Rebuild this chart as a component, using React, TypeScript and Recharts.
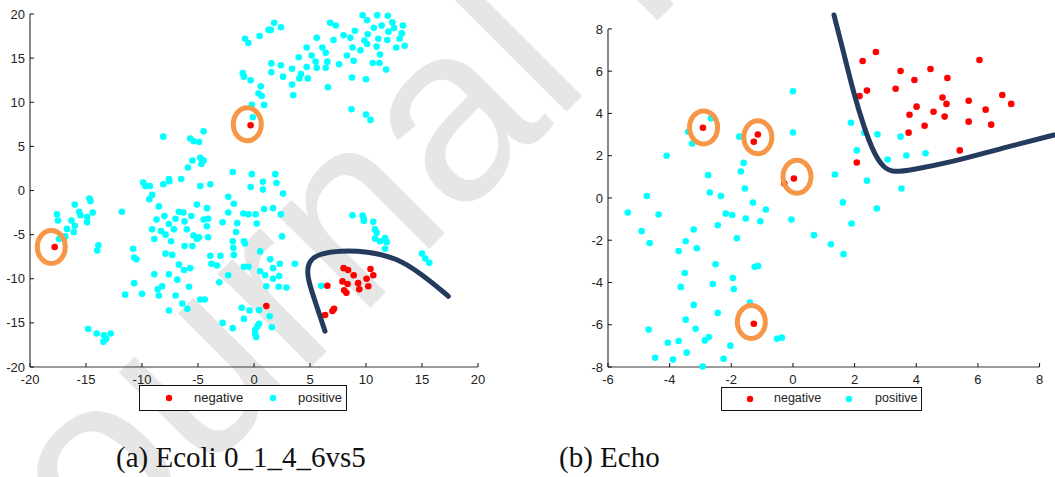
import React from 'react';
import { ScatterChart, Scatter, XAxis, YAxis, ReferenceLine } from 'recharts';

type P = [number, number];

// (a) Ecoli 0_1_4_6vs5
const ecoliPositive: P[] = [
  [-8.1, 6.1], [-5.7, 5.9], [-5.4, 5.6], [-4.9, 5.5], [-4.5, 6.7], [-4.8, 3.7], [-4.7, 3.0], [-4.5, 3.4],
  [-5.5, 3.4], [-5.9, 2.6], [-6.5, 1.3], [-7.6, 1.3], [-1.9, 2.1],
  [-0.8, 17.2], [-0.5, 16.7], [0.5, 17.5], [1.3, 18.2], [1.5, 18.2], [1.8, 19.0], [2.4, 18.5], [-1.0, 13.3],
  [-0.9, 12.9], [-0.3, 12.5], [0.6, 11.8], [0.4, 11.0], [0.7, 10.7], [0.9, 9.7], [-0.2, 9.7], [-0.1, 8.3],
  [1.55, 14.4], [1.55, 13.4], [2.4, 14.2], [2.6, 12.9], [3.4, 13.8], [3.4, 12.0], [3.5, 10.8], [4.0, 15.1],
  [4.7, 16.2], [5.15, 15.3], [4.05, 12.7], [4.2, 13.2], [4.7, 14.0], [4.8, 12.7], [5.5, 14.6], [5.6, 13.9],
  [5.6, 17.3], [6.1, 16.2], [6.4, 15.6], [6.55, 14.6], [6.4, 13.9], [6.6, 11.7], [6.8, 19.0], [7.3, 18.7],
  [7.1, 17.05], [7.6, 14.3], [8.0, 17.6], [8.3, 15.3], [8.6, 17.3], [8.8, 16.2], [8.9, 14.7], [9.0, 18.1],
  [8.75, 12.8], [9.5, 15.9], [8.7, 9.2], [9.7, 19.85], [10.1, 19.3], [10.15, 17.7], [9.85, 17.0], [10.1, 16.6],
  [10.0, 12.6], [10.0, 8.6], [10.4, 8.0], [10.7, 18.45], [11.0, 19.85], [11.4, 18.7], [11.1, 17.2], [10.95, 16.3],
  [11.25, 15.4], [10.6, 14.45], [11.2, 14.45], [11.8, 13.7], [11.95, 19.8], [12.35, 19.05], [12.0, 18.0],
  [12.5, 18.4], [11.9, 17.05], [13.3, 18.7], [13.2, 17.8], [13.0, 17.2], [12.7, 16.2], [13.45, 16.4],
  [-0.2, 1.85], [1.9, 1.85],
  [-9.9, 0.9], [-9.7, 0.5], [-9.3, 0.5], [-9.1, -0.5], [-9.35, -1.0], [-8.1, 0.7], [-7.56, 1.04], [-4.8, 0.5],
  [-3.9, 0.7], [-2.3, -0.7], [-1.8, -1.5],
  [-14.7, -0.9], [-14.6, -1.2], [-16.0, -1.6], [-17.6, -2.7], [-17.5, -3.4], [-15.6, -2.4], [-15.5, -2.8],
  [-14.4, -2.5], [-14.9, -3.0], [-14.9, -3.6], [-16.3, -3.4], [-16.0, -4.0], [-16.1, -4.7], [-16.7, -4.35],
  [-16.85, -5.2], [-17.4, -5.5], [-13.9, -6.2], [-14.0, -6.8], [-11.8, -2.4], [-10.8, -6.6], [-10.7, -7.6],
  [-10.5, -7.8], [-10.7, -10.5], [-11.5, -11.8], [-10.0, -11.7], [-14.8, -15.7], [-14.05, -16.2], [-13.4, -16.4],
  [-13.2, -16.8], [-13.45, -17.15], [-12.8, -16.2],
  [-8.5, -1.8], [-8.7, -3.3], [-8.0, -2.9], [-9.1, -4.4], [-8.9, -5.5], [-8.3, -4.6], [-7.9, -5.0], [-7.6, -3.8],
  [-7.15, -4.4], [-7.0, -3.2], [-6.7, -2.4], [-6.3, -2.5], [-6.2, -3.5], [-5.6, -2.9], [-5.1, -1.6], [-6.0, -4.4],
  [-5.4, -5.1], [-5.1, -5.5], [-5.5, -6.3], [-6.2, -6.3], [-7.4, -5.75], [-7.9, -7.15], [-7.3, -7.3], [-6.7, -8.4],
  [-6.25, -9.0], [-5.7, -8.8], [-7.6, -9.5], [-8.9, -9.5], [-6.85, -10.1], [-8.2, -10.85], [-8.6, -11.2],
  [-8.5, -11.9], [-7.0, -11.9], [-5.8, -10.9], [-7.6, -13.6], [-6.4, -12.8], [-5.95, -13.4], [-4.8, -12.35],
  [-4.4, -12.35], [-4.9, -5.3], [-4.5, -3.3], [-4.1, -3.2], [-4.2, -4.05], [-4.2, -2.0], [-4.1, -5.3], [-3.9, -7.4],
  [-3.8, -8.3], [-3.3, -8.5], [-3.1, -10.4], [-3.0, -7.4], [-2.8, -3.6], [-2.3, -2.5], [-1.9, -5.75], [-1.85, -6.5],
  [-1.8, -7.3], [-2.3, -9.6], [-1.6, -4.7], [-1.5, -3.7], [-2.8, -15.0], [-1.9, -15.6],
  [-0.3, 0.4], [0.8, 1.0], [0.8, 0.1], [2.0, 0.85], [2.6, -0.35], [-0.95, -2.6], [-0.5, -2.7], [0.15, -2.7],
  [0.9, -2.1], [1.7, -2.0], [2.4, -2.7], [0.25, -3.75], [-0.9, -5.75], [-0.8, -6.0], [2.5, -5.2], [0.55, -6.9],
  [1.45, -7.8], [1.7, -8.8], [2.3, -8.3], [-0.9, -8.65], [-0.5, -8.65], [0.55, -9.15], [1.0, -9.6], [1.7, -10.0],
  [2.25, -9.7], [1.1, -10.85], [2.2, -10.9], [2.9, -11.0], [3.65, -8.3], [6.0, -10.8], [-1.1, -13.3], [-0.4, -13.6],
  [0.45, -13.55], [-0.9, -14.55], [0.45, -15.1], [0.3, -15.4], [0.1, -15.8], [0.1, -16.2], [0.2, -16.6],
  [1.4, -14.25], [1.6, -15.5],
  [8.8, -2.8], [9.7, -2.85], [9.8, -3.2], [9.8, -3.45], [10.65, -3.55], [10.8, -4.4], [10.95, -4.8], [10.8, -5.45],
  [11.25, -5.75], [11.7, -5.4], [11.85, -5.85], [11.7, -6.6], [15.0, -7.15], [15.3, -7.7], [15.65, -8.2],
];
const ecoliNegative: P[] = [
  [-0.3, 7.4], [-17.8, -6.4], [1.1, -13.1], [6.55, -10.8], [8.0, -8.8], [8.4, -9.0], [8.9, -9.6], [7.9, -10.3],
  [8.35, -10.6], [8.05, -11.3], [8.25, -11.6], [9.3, -10.5], [9.4, -11.2], [10.2, -10.85], [10.05, -10.0],
  [10.4, -8.9], [10.65, -9.6], [7.15, -13.4], [7.0, -13.65], [6.35, -14.1],
];
const ecoliMarked: P[] = [[-0.6, 7.5], [-18.1, -6.4]];
const ecoliBoundary: P[] = [
  [6.34, -15.94], [5.6, -13.1], [5.0, -10.85], [4.7, -9.15], [5.0, -7.83], [5.89, -7.15], [7.68, -6.81],
  [10.06, -6.88], [12.74, -7.64], [14.82, -9.34], [17.2, -11.79], [17.35, -11.98],
];
const ecoliTicks = [-20, -15, -10, -5, 0, 5, 10, 15, 20];

// (b) Echo
const echoPositive: P[] = [
  [0, 5.05], [0, 3.1], [-4.1, 2.0], [-3.4, 3.13], [-3.27, 2.58], [-2.66, 3.77], [-1.74, 2.9], [-1.6, 1.66],
  [-1.69, 1.25], [-2.75, 1.08],
  [-1.56, 0.45], [-2.7, 0.26], [-2.34, 0.09], [-4.74, 0.09], [-1.3, -0.22], [-0.88, -0.55], [-5.36, -0.69],
  [-4.36, -0.78], [-2.18, -0.74], [-1.97, -0.81], [-1.53, -0.97], [-1.06, -1.1], [-0.05, -1.02], [-2.44, -1.29],
  [-4.91, -1.57], [-3.22, -1.49], [-4.65, -2.13], [-3.48, -2.05], [-1.82, -1.91], [-3.71, -2.51], [-3.12, -2.38],
  [-2.51, -3.14], [-1.24, -3.26], [-1.13, -3.22], [-3.51, -3.55], [-2.6, -4.07], [-1.95, -3.79], [-1.92, -4.31],
  [-3.64, -4.21], [-3.22, -5.06], [-1.4, -4.95], [-2.44, -5.44], [-3.48, -5.76], [-3.16, -6.19], [-4.68, -6.23],
  [-4.06, -6.85], [-3.71, -6.77], [-2.86, -6.74], [-2.73, -6.58], [-2.03, -6.99], [-0.52, -6.66], [-0.36, -6.61],
  [-3.45, -7.32], [-4.47, -7.56], [-3.89, -7.65], [-2.25, -7.61], [-2.93, -7.98],
  [1.88, 3.56], [2.32, 3.09], [2.74, 3.01], [3.49, 2.9], [2.07, 2.25], [3.07, 1.82], [3.68, 2.01], [4.3, 2.11],
  [1.36, 1.11], [2.4, 0.82], [3.52, 0.45], [1.62, -0.21], [2.72, -0.5], [1.9, -1.21], [0.68, -1.76], [1.23, -2.19],
  [1.64, -2.66],
];
const echoNegative: P[] = [
  [-2.92, 3.32], [-1.14, 3.0], [-1.27, 2.66], [0.03, 0.92], [-0.28, 0.68], [-1.27, -5.95],
  [2.69, 6.91], [2.26, 6.48], [2.4, 5.08], [2.16, 4.82], [3.49, 6.01], [3.33, 5.17], [3.94, 5.58], [4.46, 6.1],
  [5.01, 5.68], [6.05, 6.53], [4.85, 4.75], [4.98, 4.45], [4.01, 4.32], [3.78, 3.94], [4.56, 4.08], [4.92, 3.85],
  [4.27, 3.42], [3.75, 3.09], [5.7, 4.6], [6.25, 4.18], [6.79, 4.87], [7.08, 4.45], [5.7, 3.61], [6.43, 3.47],
  [5.41, 2.25], [2.07, 1.68],
];
const echoMarked: P[] = [[-2.9, 3.34], [-1.14, 2.87], [0.13, 1.0], [-1.35, -5.87]];
const echoBoundary: P[] = [
  [1.33, 8.66], [1.65, 6.85], [1.97, 4.95], [2.3, 3.37], [2.62, 2.11], [2.95, 1.4], [3.27, 1.21], [3.81, 1.32],
  [5.11, 1.68], [6.74, 2.34], [8.47, 2.98],
];
const echoXTicks = [-6, -4, -2, 0, 2, 4, 6, 8];
const echoYTicks = [-8, -6, -4, -2, 0, 2, 4, 6, 8];

const toPts = (a: P[]) => a.map(([x, y]) => ({ x, y }));

const CYAN = '#00ffff';
const RED = '#ff0000';
const ORANGE = '#f79646';
const NAVY = '#243b5e';
const AXIS = '#3a3a3a';
const SANS = '"Liberation Sans", Arial, Helvetica, sans-serif';

const dot = (color: string) => (p: any) => <circle cx={p.cx} cy={p.cy} r={3.3} fill={color} />;
const ring = (p: any) => (
  <ellipse cx={p.cx} cy={p.cy} rx={14} ry={16.5} fill="none" stroke={ORANGE} strokeWidth={5} />
);
const none = () => <g />;

const tickStyle = { fontSize: 13, fill: '#222', fontFamily: SANS };

function LegendBox({ left, top, width, height, items, fontSize }: any) {
  return (
    <div
      style={{
        position: 'absolute', left, top, width, height, boxSizing: 'border-box',
        border: '1.5px solid #111', background: '#fff', fontFamily: SANS, fontSize, color: '#222',
      }}
    >
      {items.map((it: any) => (
        <React.Fragment key={it.label}>
          <svg style={{ position: 'absolute', left: it.dot - 4 - left, top: height / 2 - 5 }} width={8} height={8}>
            <circle cx={4} cy={4} r={3.2} fill={it.color} />
          </svg>
          <span style={{ position: 'absolute', left: it.text - left, top: height / 2 - fontSize * 0.62, lineHeight: 1 }}>
            {it.label}
          </span>
        </React.Fragment>
      ))}
    </div>
  );
}

export default function App() {
  return (
    <div style={{ position: 'absolute', left: 0, top: 0, width: 1055, height: 477, background: '#fff', overflow: 'hidden' }}>
      {/* page watermark behind the figure */}
      <svg style={{ position: 'absolute', left: 0, top: 0 }} width={1055} height={477}>
        <text x={14} y={664} transform="rotate(-45 14 664)" fontFamily={SANS} fontSize={250} fill="#e6e6e6">
          Journal Pre-proof
        </text>
      </svg>
      <div style={{ position: 'absolute', left: 0, top: 0 }}>
        <ScatterChart width={500} height={400} margin={{ top: 14, right: 22, bottom: 3, left: 0 }}>
          <XAxis
            type="number" dataKey="x" domain={[-20, 20]} ticks={ecoliTicks} interval={0}
            height={30} tickSize={-4} tickMargin={12} tick={tickStyle}
            stroke={AXIS} axisLine={{ stroke: AXIS, strokeWidth: 1.2 }} tickLine={{ stroke: '#111' }}
          />
          <YAxis
            type="number" dataKey="y" domain={[-20, 20]} ticks={ecoliTicks} interval={0}
            width={30} tickSize={-4} tickMargin={9} tick={tickStyle}
            stroke={AXIS} axisLine={{ stroke: AXIS, strokeWidth: 1.2 }} tickLine={{ stroke: '#111' }}
          />
          <Scatter name="positive" data={toPts(ecoliPositive)} fill={CYAN} shape={dot(CYAN)} isAnimationActive={false} />
          <Scatter name="negative" data={toPts(ecoliNegative)} fill={RED} shape={dot(RED)} isAnimationActive={false} />
          <Scatter
            data={toPts(ecoliBoundary)} fill={NAVY} shape={none} legendType="none"
            line={{ stroke: NAVY, strokeWidth: 5, strokeLinecap: 'round' }} lineJointType="basis" isAnimationActive={false}
          />
          <Scatter data={toPts(ecoliMarked)} fill={ORANGE} shape={ring} legendType="none" isAnimationActive={false} />
        </ScatterChart>
      </div>
      <div style={{ position: 'absolute', left: 578, top: 0 }}>
        <ScatterChart width={477} height={400} margin={{ top: 12, right: 0, bottom: 3, left: 0 }}>
          <XAxis
            type="number" dataKey="x" domain={[-6, 8.5]} ticks={echoXTicks} interval={0}
            height={30} tickSize={-4} tickMargin={12} tick={tickStyle}
            axisLine={false} tickLine={{ stroke: '#111' }}
          />
          <YAxis
            type="number" dataKey="y" domain={[-8, 8.8]} ticks={echoYTicks} interval={0}
            width={30} tickSize={-4} tickMargin={9} tick={tickStyle}
            axisLine={false} tickLine={{ stroke: '#111' }}
          />
          <ReferenceLine segment={[{ x: -6, y: -8 }, { x: 8, y: -8 }]} stroke={AXIS} strokeWidth={1.2} />
          <ReferenceLine segment={[{ x: -6, y: -8 }, { x: -6, y: 8 }]} stroke={AXIS} strokeWidth={1.2} />
          <Scatter name="positive" data={toPts(echoPositive)} fill={CYAN} shape={dot(CYAN)} isAnimationActive={false} />
          <Scatter name="negative" data={toPts(echoNegative)} fill={RED} shape={dot(RED)} isAnimationActive={false} />
          <Scatter
            data={toPts(echoBoundary)} fill={NAVY} shape={none} legendType="none"
            line={{ stroke: NAVY, strokeWidth: 5, strokeLinecap: 'round' }} lineJointType="basis" isAnimationActive={false}
          />
          <Scatter data={toPts(echoMarked)} fill={ORANGE} shape={ring} legendType="none" isAnimationActive={false} />
        </ScatterChart>
      </div>

      <LegendBox
        left={139} top={385} width={208} height={26} fontSize={13}
        items={[
          { label: 'negative', color: RED, dot: 168, text: 193 },
          { label: 'positive', color: CYAN, dot: 272, text: 297 },
        ]}
      />
      <LegendBox
        left={721} top={387} width={201} height={24} fontSize={12.5}
        items={[
          { label: 'negative', color: RED, dot: 749, text: 773 },
          { label: 'positive', color: CYAN, dot: 848, text: 874 },
        ]}
      />

      <div style={{ position: 'absolute', left: 116, top: 443, fontFamily: '"Liberation Serif", "Times New Roman", serif', fontSize: 29, color: '#111', lineHeight: 1, whiteSpace: 'nowrap' }}>
        (a) Ecoli 0_1_4_6vs5
      </div>
      <div style={{ position: 'absolute', left: 559, top: 443, fontFamily: '"Liberation Serif", "Times New Roman", serif', fontSize: 29, color: '#111', lineHeight: 1, whiteSpace: 'nowrap' }}>
        (b) Echo
      </div>
    </div>
  );
}
